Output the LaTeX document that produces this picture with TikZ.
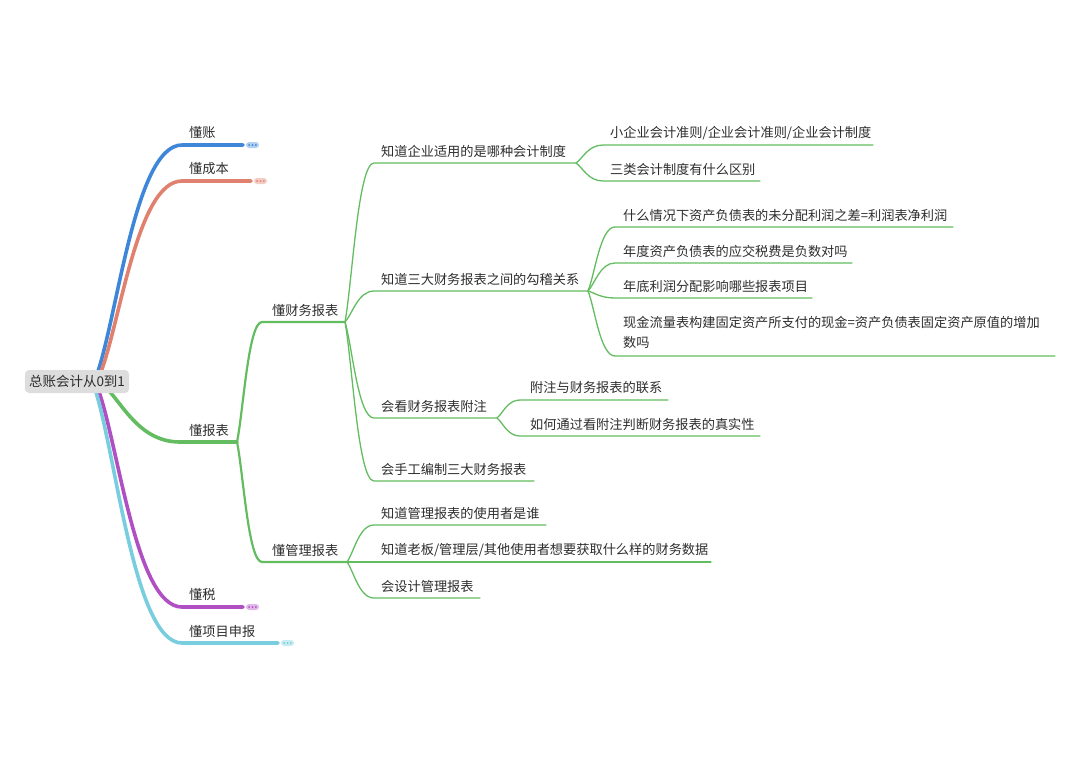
\documentclass[tikz,border=0pt]{standalone}
\usepackage{fontspec}
\setmainfont{Noto Sans CJK SC}
\usetikzlibrary{calc}
\pgfdeclarelayer{bg}
\pgfsetlayers{bg,main}
\definecolor{cblue}{RGB}{61,134,216}
\definecolor{csalmon}{RGB}{224,128,110}
\definecolor{cgreen}{RGB}{99,189,96}
\definecolor{cpurple}{RGB}{176,78,196}
\definecolor{ccyan}{RGB}{120,205,222}
\definecolor{ctext}{RGB}{45,45,45}
\definecolor{croot}{RGB}{221,221,221}
\newcommand\mmbranch[4]{\draw[#1] let \p1=(#2), \p2=(#3) in (#2) .. controls ({\x1+0.25*(\x2-\x1)},{\y1+0.25*(\y2-\y1)}) and ({\x1+0.45*(\x2-\x1)},\y2) .. (#3) -- (#4);}
\begin{document}
\begin{tikzpicture}[x=1pt,y=-1pt,
  txt/.style={anchor=west, inner sep=0pt, font=\fontsize{13.2}{20}\selectfont, text=ctext},
  rootbox/.style={fill=croot, rounded corners=4pt, minimum width=104pt, minimum height=23pt, inner sep=0pt, font=\fontsize{13.5}{16}\selectfont, text=ctext},
  thick1/.style={draw=#1, line width=3.6pt, line cap=round},
  lvtwo/.style={draw=cgreen, line width=2.2pt, line cap=round},
  lvthree/.style={draw=cgreen, line width=1.3pt, line cap=round},
  pill/.style={fill=#1!40, rounded corners=3pt, minimum width=13pt, minimum height=6pt, inner sep=0pt,
    path picture={\foreach \i in {-1,0,1} \fill[#1] ([xshift=\i*3.4pt]path picture bounding box.center) circle (1pt);}}
]
\useasboundingbox (0,0) rectangle (1080,764);

% root
\node[rootbox] (root) at (77,381.5) {总账会计从0到1};
\coordinate (r1) at (96,377);
\coordinate (r2) at (99,377);
\coordinate (r3) at (100,382);
\coordinate (r4) at (97,386);
\coordinate (r5) at (94,386);

% first level coordinates
\coordinate (zhang-s) at (182,145);  \coordinate (zhang-e) at (243,145);
\coordinate (cb-s) at (182,181);     \coordinate (cb-e) at (251,181);
\coordinate (bb-s) at (180,442);     \coordinate (bb-e) at (237,442);
\coordinate (shui-s) at (182,607);   \coordinate (shui-e) at (243,607);
\coordinate (xm-s) at (182,643);     \coordinate (xm-e) at (278,643);

\begin{pgfonlayer}{bg}
\mmbranch{thick1=cblue}{r1}{zhang-s}{zhang-e}
\mmbranch{thick1=csalmon}{r2}{cb-s}{cb-e}
\mmbranch{thick1=cpurple}{r4}{shui-s}{shui-e}
\mmbranch{thick1=ccyan}{r5}{xm-s}{xm-e}
\mmbranch{thick1=cgreen}{r3}{bb-s}{bb-e}
\end{pgfonlayer}

\node[txt] (zhang) at (189,133) {懂账};
\node[txt] (cb) at (189,169) {懂成本};
\node[txt] (bb) at (189,430) {懂报表};
\node[txt] (shui) at (189,594) {懂税};
\node[txt] (xm) at (189,631) {懂项目申报};

\node[pill=cblue] (p1) at (252.5,145) {};
\node[pill=csalmon] (p2) at (260.5,181) {};
\node[pill=cpurple] (p3) at (252.5,607) {};
\node[pill=ccyan] (p4) at (287.5,643) {};

% second level
\coordinate (cw-s) at (262,322);  \coordinate (cw-e) at (345,322);
\coordinate (gl-s) at (262,562);  \coordinate (gl-e) at (347,562);
\mmbranch{lvtwo}{bb-e}{cw-s}{cw-e}
\mmbranch{lvtwo}{bb-e}{gl-s}{gl-e}
\node[txt] (cw) at (272,310) {懂财务报表};
\node[txt] (gl) at (272,550) {懂管理报表};

% third level under 懂财务报表
\coordinate (a1-s) at (374,163); \coordinate (a1-e) at (576,163);
\coordinate (a2-s) at (374,291); \coordinate (a2-e) at (588,291);
\coordinate (a3-s) at (374,418); \coordinate (a3-e) at (497,418);
\coordinate (a4-s) at (374,481); \coordinate (a4-e) at (534,481);
\mmbranch{lvthree}{cw-e}{a1-s}{a1-e}
\mmbranch{lvthree}{cw-e}{a2-s}{a2-e}
\mmbranch{lvthree}{cw-e}{a3-s}{a3-e}
\mmbranch{lvthree}{cw-e}{a4-s}{a4-e}
\node[txt] (a1) at (381,151) {知道企业适用的是哪种会计制度};
\node[txt] (a2) at (381,279) {知道三大财务报表之间的勾稽关系};
\node[txt] (a3) at (381,406) {会看财务报表附注};
\node[txt] (a4) at (381,469) {会手工编制三大财务报表};

% third level under 懂管理报表
\coordinate (b1-s) at (374,525); \coordinate (b1-e) at (546,525);
\coordinate (b2-s) at (374,562); \coordinate (b2-e) at (711,562);
\coordinate (b3-s) at (374,598); \coordinate (b3-e) at (480,598);
\mmbranch{lvthree}{gl-e}{b1-s}{b1-e}
\mmbranch{lvthree}{gl-e}{b2-s}{b2-e}
\mmbranch{lvthree}{gl-e}{b3-s}{b3-e}
\node[txt] (b1) at (381,513) {知道管理报表的使用者是谁};
\node[txt] (b2) at (381,550) {知道老板/管理层/其他使用者想要获取什么样的财务数据};
\node[txt] (b3) at (381,586) {会设计管理报表};

% fourth level under 知道企业适用的是哪种会计制度
\coordinate (c1-s) at (603,145); \coordinate (c1-e) at (873,145);
\coordinate (c2-s) at (603,181); \coordinate (c2-e) at (760,181);
\mmbranch{lvthree}{a1-e}{c1-s}{c1-e}
\mmbranch{lvthree}{a1-e}{c2-s}{c2-e}
\node[txt] (c1) at (610,133) {小企业会计准则/企业会计准则/企业会计制度};
\node[txt] (c2) at (610,169) {三类会计制度有什么区别};

% fourth level under 知道三大财务报表之间的勾稽关系
\coordinate (d1-s) at (615,227); \coordinate (d1-e) at (953,227);
\coordinate (d2-s) at (615,263); \coordinate (d2-e) at (852,263);
\coordinate (d3-s) at (615,298); \coordinate (d3-e) at (812,298);
\coordinate (d4-s) at (615,356); \coordinate (d4-e) at (1055,356);
\mmbranch{lvthree}{a2-e}{d1-s}{d1-e}
\mmbranch{lvthree}{a2-e}{d2-s}{d2-e}
\mmbranch{lvthree}{a2-e}{d3-s}{d3-e}
\mmbranch{lvthree}{a2-e}{d4-s}{d4-e}
\node[txt] (d1) at (623,215) {什么情况下资产负债表的未分配利润之差=利润表净利润};
\node[txt] (d2) at (623,251) {年度资产负债表的应交税费是负数对吗};
\node[txt] (d3) at (623,286) {年底利润分配影响哪些报表项目};
\node[txt, align=left] (d4) at (623,332) {现金流量表构建固定资产所支付的现金=资产负债表固定资产原值的增加\\数吗};

% fourth level under 会看财务报表附注
\coordinate (e1-s) at (520,400); \coordinate (e1-e) at (668,400);
\coordinate (e2-s) at (520,436); \coordinate (e2-e) at (760,436);
\mmbranch{lvthree}{a3-e}{e1-s}{e1-e}
\mmbranch{lvthree}{a3-e}{e2-s}{e2-e}
\node[txt] (e1) at (530,388) {附注与财务报表的联系};
\node[txt] (e2) at (530,424) {如何通过看附注判断财务报表的真实性};
\end{tikzpicture}
\end{document}
